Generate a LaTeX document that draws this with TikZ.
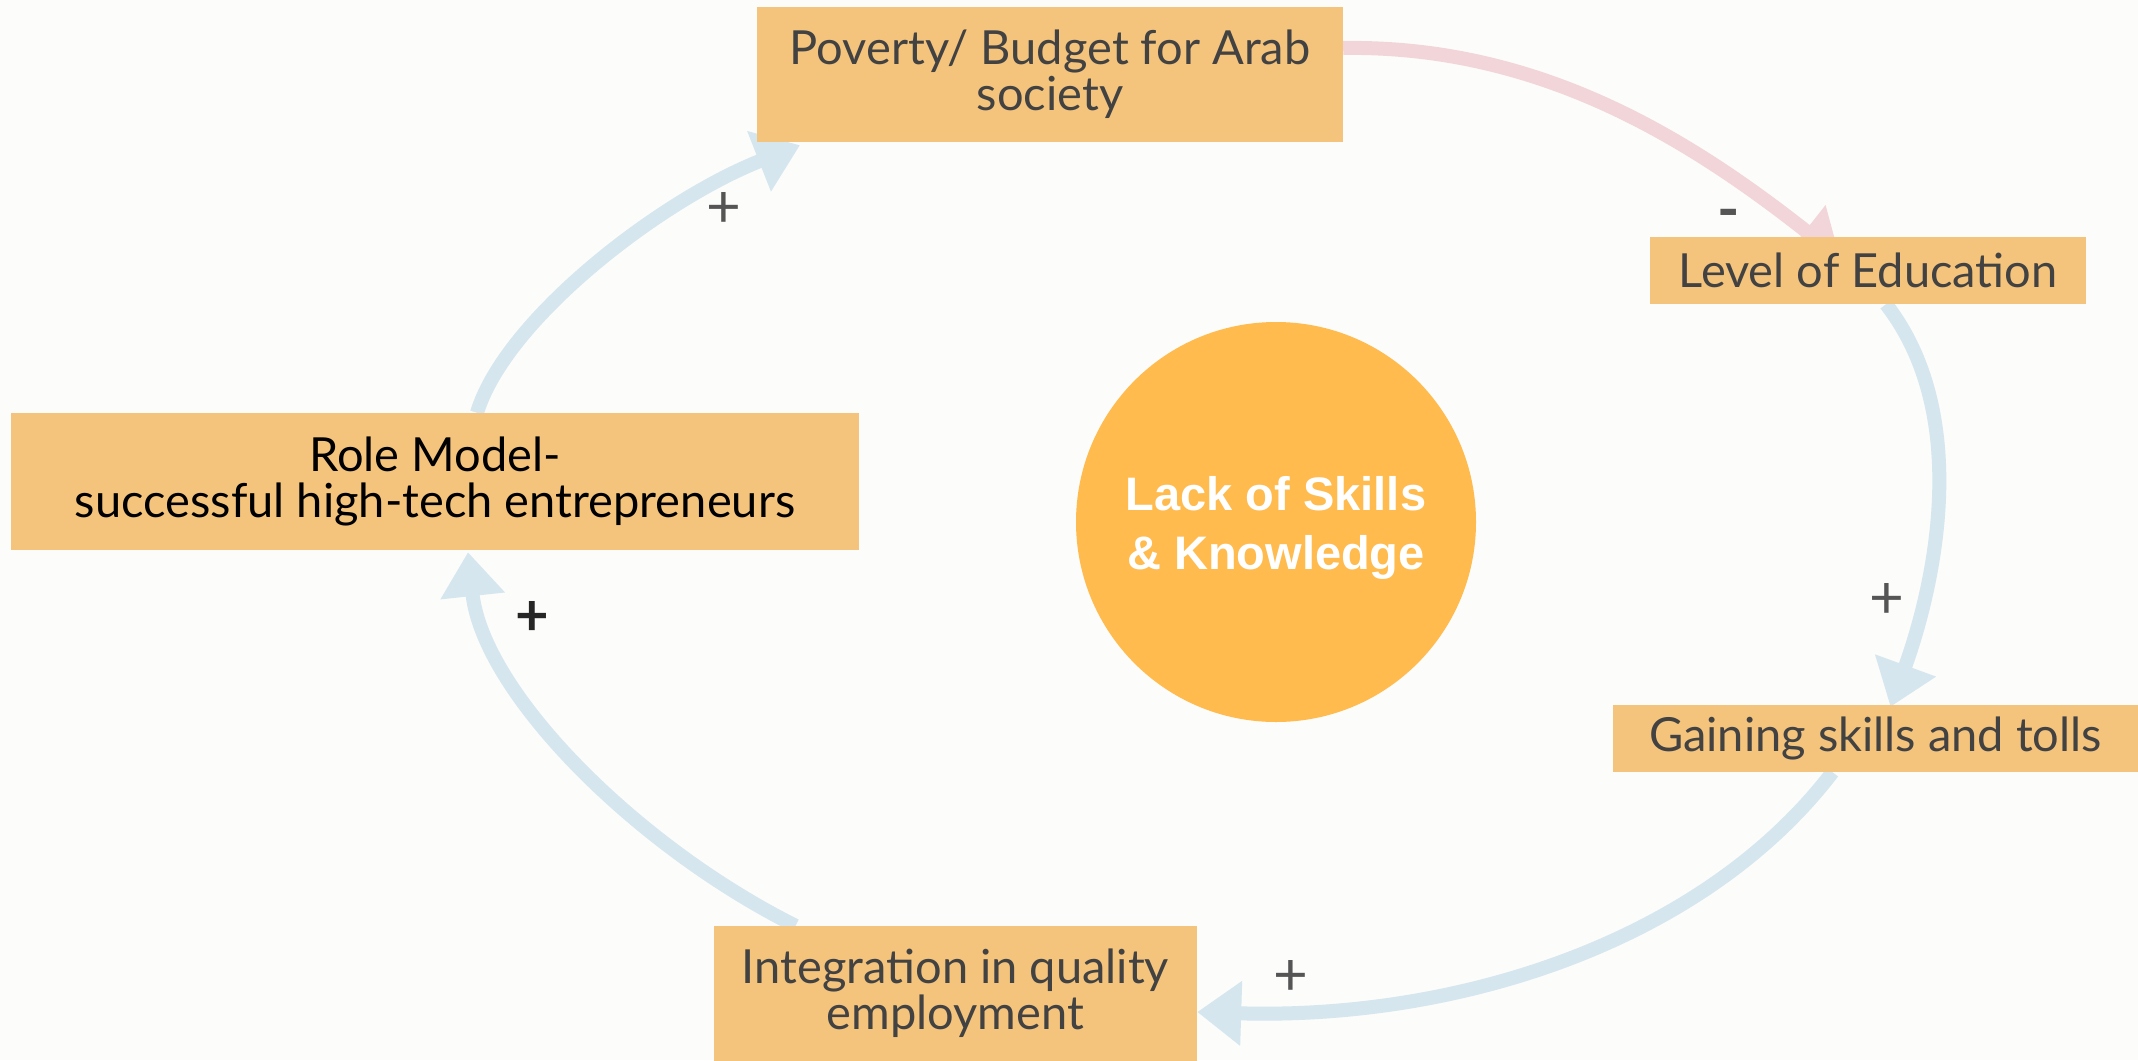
\documentclass[tikz,border=0pt]{standalone}
\usepackage{fontspec}
\setmainfont{Lato}
\newfontfamily\circfont{Liberation Sans}
\usetikzlibrary{arrows.meta,calc}
\definecolor{bgc}{HTML}{FCFCFA}
\definecolor{boxc}{HTML}{F4C47D}
\definecolor{circc}{HTML}{FFBB4E}
\definecolor{bluec}{HTML}{D5E6EE}
\definecolor{pinkc}{HTML}{F2D5D9}
\definecolor{txtc}{HTML}{424242}
\definecolor{signc}{HTML}{555555}
\pgfdeclarelayer{bglayer}
\pgfdeclarelayer{linklayer}
\pgfsetlayers{bglayer,linklayer,main}
\begin{document}
\begin{tikzpicture}[x=1pt,y=-1pt,
  box/.style={rectangle, fill=boxc, inner sep=0pt, align=center, text=txtc, font=\fontsize{47}{46}\selectfont},
  link/.style={line width=14pt, draw=bluec, -{Triangle[length=44pt,width=62pt]}},
  neglink/.style={link, draw=pinkc},
  sign/.style={text=signc, font=\fontsize{60}{60}\selectfont, inner sep=0pt}]
\useasboundingbox (0,0) rectangle (2138,1060);
\begin{pgfonlayer}{bglayer}
\fill[bgc] (0,0) rectangle (2138,1060);
\end{pgfonlayer}

\node[box, minimum width=586pt, minimum height=135pt] (pov) at (1050,74.5) {Poverty/ Budget for Arab\\society};
\node[box, minimum width=436pt, minimum height=67pt] (lev) at (1868,270.5) {Level of Education};
\node[box, minimum width=525pt, minimum height=67pt] (gain) at (1875.5,738.5) {Gaining skills and tolls};
\node[box, minimum width=483pt, minimum height=135pt] (integ) at (955.5,993.5) {Integration in quality\\employment};
\node[box, text=black, minimum width=848pt, minimum height=137pt] (role) at (435,481.5) {Role Model-\\successful high-tech entrepreneurs};
\node[circle, fill=circc, minimum size=400pt, inner sep=0pt] (core) at (1276,522) {};
\node[text=white, align=center, inner sep=0pt,
  font=\circfont\bfseries\fontsize{47}{59}\selectfont] (coretext) at ($(core.center)+(0,6)$) {Lack of Skills\\\& Knowledge};

\node[sign] (s1) at (724,210) {+};
\node[sign] (s2) at (1729,220) {\textbf{-}};
\node[sign] (s3) at (1887,601) {+};
\node[sign] (s4) at (1291,978) {+};
\node[sign, text=black!85, font=\bfseries\fontsize{58}{58}\selectfont] (s5) at (532,618) {+};

\begin{pgfonlayer}{linklayer}
\draw[neglink] ($(pov.east)+(0,-26.5)$) .. controls +(197,-3) and +(-150,-118) .. ($(lev.north)+(-28,21)$);
\draw[link] ($(lev.south)+(18,0)$) .. controls +(90,116) and +(40,-110) .. ($(gain.north)+(15,2)$);
\draw[link] ($(gain.south)+(-43,0)$) .. controls +(-130,170) and +(260,8) .. ($(integ.east)+(0,18.5)$);
\draw[link] ($(integ.north)+(-160,0)$) .. controls +(-160,-80) and +(15,140) .. ($(role.south)+(33,2)$);
\draw[link] ($(role.north)+(42,0)$) .. controls +(28,-93) and +(-140,55) .. ($(pov.south)+(-250,3)$);
\end{pgfonlayer}
\end{tikzpicture}
\end{document}
